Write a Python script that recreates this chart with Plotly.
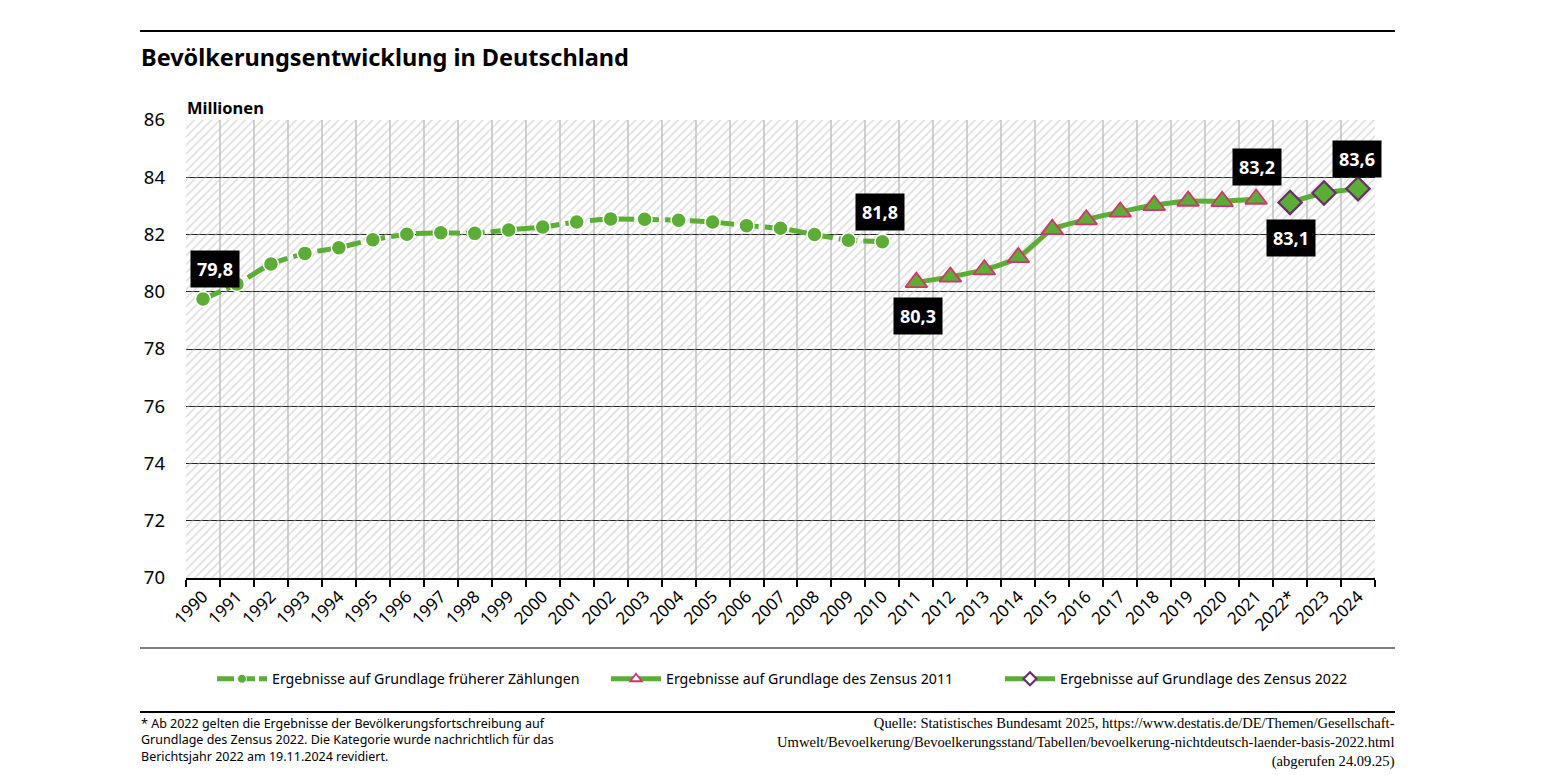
import plotly.graph_objects as go

# Bevölkerung in Millionen
years = [str(y) for y in range(1990, 2022)] + ["2022*", "2023", "2024"]

years_frueher = [str(y) for y in range(1990, 2011)]
values_frueher = [79.75, 80.27, 80.97, 81.34, 81.54, 81.82, 82.01, 82.06, 82.04, 82.16,
                  82.26, 82.44, 82.54, 82.53, 82.50, 82.44, 82.31, 82.22, 82.00, 81.80, 81.75]

years_z2011 = [str(y) for y in range(2011, 2022)]
values_z2011 = [80.33, 80.52, 80.77, 81.20, 82.18, 82.52, 82.79, 83.02, 83.17, 83.16, 83.24]

years_z2022 = ["2022*", "2023", "2024"]
values_z2022 = [83.12, 83.45, 83.60]

# beschriftete Punkte
label_years = ["1990", "2010", "2011", "2021", "2022*", "2024"]
label_values = [79.75, 81.75, 80.33, 83.24, 83.12, 83.60]
label_shift = [(12, 30), (-2, 30), (2, -34), (1, 32), (1, -36), (-1, 30)]

y_min, y_max = 70, 86
GREEN = "#5cad36"
SANS = "Noto Sans"

# the page is drawn 8px in from the window edge
OFF = 8
W, H = 1545 - OFF, 775 - OFF
L, R, T, B = 186, 1375, 120, 578


def px_x(p):
    return (p - L) / (R - L)


def px_y(p):
    return (B - p) / (B - T)


fig = go.Figure()

# schraffierter Hintergrund
fig.add_trace(go.Bar(
    x=years, y=[y_max - y_min] * len(years), base=y_min, width=1,
    marker=dict(color="rgba(0,0,0,0)", line_width=0,
                pattern=dict(shape="/", fgcolor="#c0c0c0", bgcolor="rgba(0,0,0,0)",
                             size=6, solidity=0.28)),
    hoverinfo="skip", showlegend=False))

fig.add_trace(go.Scatter(
    x=years_frueher, y=values_frueher, mode="lines+markers", showlegend=False,
    line=dict(color=GREEN, width=5, dash="19px,6px", shape="spline", smoothing=0.6),
    marker=dict(symbol="circle", size=15, color=GREEN, line=dict(color="white", width=1.5))))

fig.add_trace(go.Scatter(
    x=years_z2011, y=values_z2011, mode="lines+markers", showlegend=False,
    line=dict(color=GREEN, width=5, shape="spline", smoothing=0.6),
    marker=dict(symbol="triangle-up", size=19, color=GREEN, line=dict(color="#d6336c", width=1.8))))

fig.add_trace(go.Scatter(
    x=years_z2022, y=values_z2022, mode="lines+markers", showlegend=False,
    line=dict(color=GREEN, width=5, shape="spline", smoothing=0.6),
    marker=dict(symbol="diamond", size=18, color=GREEN, line=dict(color="#6b2d6b", width=2.2))))

# Legendeneinträge mit kleinen Symbolen
fig.add_trace(go.Scatter(
    x=[None], y=[None], mode="lines+markers",
    name="Ergebnisse auf Grundlage früherer Zählungen",
    line=dict(color=GREEN, width=5, dash="17px,4px"),
    marker=dict(symbol="circle", size=9, color=GREEN, line=dict(color="white", width=1))))
fig.add_trace(go.Scatter(
    x=[None], y=[None], mode="lines+markers",
    name="Ergebnisse auf Grundlage des Zensus 2011",
    line=dict(color=GREEN, width=5),
    marker=dict(symbol="triangle-up", size=10, color="white", line=dict(color="#d6336c", width=1.8))))
fig.add_trace(go.Scatter(
    x=[None], y=[None], mode="lines+markers",
    name="Ergebnisse auf Grundlage des Zensus 2022",
    line=dict(color=GREEN, width=5),
    marker=dict(symbol="diamond", size=10, color="white", line=dict(color="#6b2d6b", width=2.2))))

annotations = []
for yr, v, (dx, dy) in zip(label_years, label_values, label_shift):
    annotations.append(dict(
        x=years.index(yr), y=v, xref="x", yref="y", showarrow=False,
        text="<b>" + f"{v:.1f}".replace(".", ",") + "</b>",
        font=dict(family=SANS, size=18, color="white"),
        bgcolor="black", borderpad=6, xshift=dx, yshift=dy))

annotations += [
    dict(x=px_x(139), y=px_y(57), xref="paper", yref="paper", xanchor="left", yanchor="middle",
         showarrow=False, text="<b>Bevölkerungsentwicklung in Deutschland</b>",
         font=dict(family=SANS, size=23.5, color="black")),
    dict(x=px_x(185), y=px_y(107), xref="paper", yref="paper", xanchor="left", yanchor="middle",
         showarrow=False, text="<b>Millionen</b>",
         font=dict(family=SANS, size=16.5, color="black")),
    dict(x=px_x(139), y=px_y(713), xref="paper", yref="paper", xanchor="left", yanchor="top",
         showarrow=False, align="left",
         text="* Ab 2022 gelten die Ergebnisse der Bevölkerungsfortschreibung auf<br>"
              "Grundlage des Zensus 2022. Die Kategorie wurde nachrichtlich für das<br>"
              "Berichtsjahr 2022 am 19.11.2024 revidiert.",
         font=dict(family=SANS, size=12.5, color="black")),
    dict(x=px_x(1397), y=px_y(713), xref="paper", yref="paper", xanchor="right", yanchor="top",
         showarrow=False, align="right",
         text="Quelle: Statistisches Bundesamt 2025, https://www.destatis.de/DE/Themen/Gesellschaft-<br>"
              "Umwelt/Bevoelkerung/Bevoelkerungsstand/Tabellen/bevoelkerung-nichtdeutsch-laender-basis-2022.html<br>"
              "(abgerufen 24.09.25)",
         font=dict(family="Liberation Serif", size=14.6, color="black")),
]

shapes = [
    dict(type="line", xref="paper", yref="paper", x0=px_x(140), x1=px_x(1395),
         y0=px_y(31), y1=px_y(31), line=dict(color="black", width=2)),
    dict(type="line", xref="paper", yref="paper", x0=px_x(140), x1=px_x(1395),
         y0=px_y(648), y1=px_y(648), line=dict(color="#555555", width=1.5)),
    dict(type="line", xref="paper", yref="paper", x0=px_x(140), x1=px_x(1395),
         y0=px_y(712), y1=px_y(712), line=dict(color="black", width=2)),
]

fig.update_layout(
    width=W, height=H,
    margin=dict(l=L - OFF, r=W - (R - OFF), t=T - OFF, b=H - (B - OFF), pad=0),
    paper_bgcolor="white", plot_bgcolor="white",
    bargap=0,
    annotations=annotations, shapes=shapes,
    legend=dict(orientation="h", x=px_x(212), xanchor="left", y=px_y(679), yanchor="middle",
                font=dict(family=SANS, size=14.2, color="black"),
                itemwidth=50, tracegroupgap=0, entrywidth=329),
    xaxis=dict(type="category", categoryorder="array", categoryarray=years,
               range=[-0.5, len(years) - 0.5], tickson="boundaries",
               showgrid=True, gridcolor="#d0d0d0", gridwidth=2,
               showline=True, linecolor="black", linewidth=2,
               ticks="outside", ticklen=7, tickwidth=2, tickcolor="black",
               tickangle=-45, tickfont=dict(family=SANS, size=17, color="black"),
               fixedrange=True),
    yaxis=dict(range=[y_min, y_max], dtick=2, showgrid=True, gridcolor="#222222", gridwidth=1,
               zeroline=False, showline=False, ticks="", ticklabelstandoff=20,
               tickfont=dict(family=SANS, size=18.5, color="black"),
               fixedrange=True),
)

fig.write_html("out.html")
